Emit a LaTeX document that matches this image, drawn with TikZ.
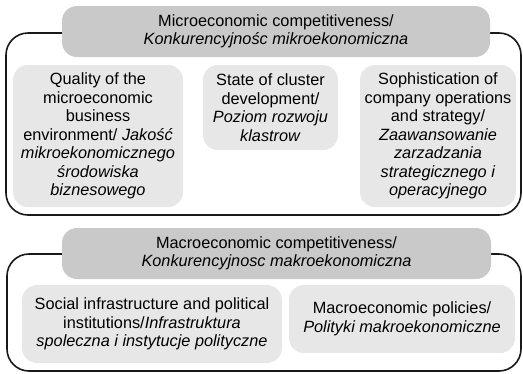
\documentclass[tikz,border=0pt]{standalone}
\usepackage{fontspec}
\setmainfont{Liberation Sans}
\definecolor{headgray}{gray}{0.79}
\definecolor{boxgray}{gray}{0.905}
\tikzset{
  frame/.style={draw=black!90,line width=1.6pt,rounded corners=22pt},
  header/.style={fill=headgray,rounded corners=15pt,align=center,inner sep=0pt},
  factor/.style={fill=boxgray,rounded corners=15pt,align=center,inner sep=0pt},
}
\begin{document}
\begin{tikzpicture}[x=1pt,y=-1pt,font={\fontsize{16.3pt}{18.5pt}\selectfont}]
  \useasboundingbox (0,0) rectangle (523,373);
  % outer frames go first, the headers sit on their top edges
  \draw[frame] (6,33) rectangle (521,215);
  \draw[frame] (7,254) rectangle (521,371);
  % microeconomic level
  \node[header,minimum width=428pt,minimum height=51pt] (micro) at (276,31.5)
    {Microeconomic competitiveness/\\ \textit{Konkurencyjnośc mikroekonomiczna}};
  \node[factor,minimum width=170pt,minimum height=142pt] (business) at (98,136)
    {Quality of the\\ microeconomic\\ business\\ environment/ \textit{Jakość}\\
     \textit{mikroekonomicznego}\\ \textit{środowiska}\\ \textit{biznesowego}};
  \node[factor,minimum width=135pt,minimum height=85pt] (cluster) at (270.5,107.5)
    {State of cluster\\ development/\\ \textit{Poziom rozwoju}\\ \textit{klastrow}};
  \node[factor,minimum width=156pt,minimum height=142pt] (company) at (438,136)
    {Sophistication of\\ company operations\\ and strategy/\\ \textit{Zaawansowanie}\\
     \textit{zarzadzania}\\ \textit{strategicznego i}\\ \textit{operacyjnego}};
  % macroeconomic level
  \node[header,minimum width=429pt,minimum height=51pt] (macro) at (276.5,253.5)
    {Macroeconomic competitiveness/\\ \textit{Konkurencyjnosc makroekonomiczna}};
  \node[factor,minimum width=260pt,minimum height=78pt] (social) at (152,324)
    {Social infrastructure and political\\ institutions/\textit{Infrastruktura}\\
     \textit{spoleczna i instytucje polityczne}};
  \node[factor,minimum width=226pt,minimum height=68pt] (policies) at (402,319)
    {Macroeconomic policies/\\ \textit{Polityki makroekonomiczne}};
\end{tikzpicture}
\end{document}
